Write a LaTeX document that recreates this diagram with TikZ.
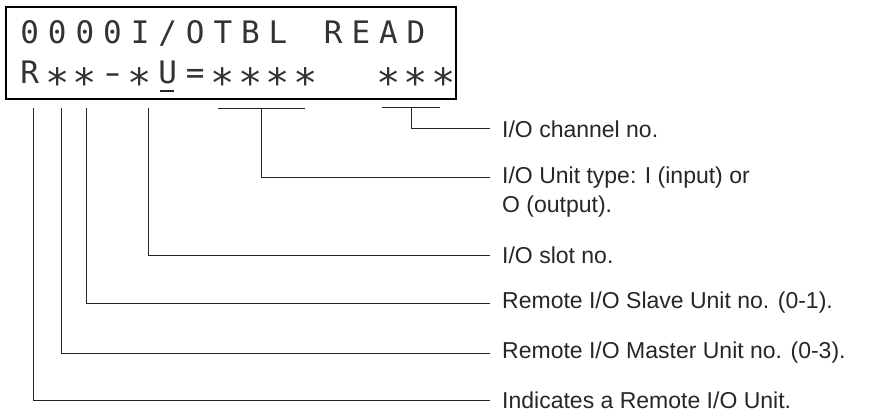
\documentclass[tikz,border=0pt]{standalone}
\usepackage{fontspec}
\usepackage{graphicx}
\setmainfont{Liberation Sans}
\newfontfamily\lcdfont{DejaVu Sans Mono}
\newcommand\lc[1]{\makebox[27.6pt]{#1}}
\newcommand\lst{\makebox[27.6pt]{\raisebox{-0.42em}{\scalebox{1.3}{*}}}}
\tikzset{
  lead/.style={line width=1pt, black!85},
  lbl/.style={anchor=west, inner xsep=12pt, inner ysep=0pt, font=\fontsize{23}{27}\selectfont, text=black!85},
  lcdline/.style={anchor=base west, inner sep=0pt, font=\lcdfont\fontsize{31}{31}\selectfont, text=black!80},
}
\begin{document}
\begin{tikzpicture}[x=1pt, y=-1pt]
\useasboundingbox (0,0) rectangle (875,414);
% LCD frame
\node[draw, line width=1.6pt, minimum width=450pt, minimum height=92pt, inner sep=0pt] (lcd) at (231,53) {};
\node[lcdline] (row1) at (15.7,44) {\lc{0}\lc{0}\lc{0}\lc{0}\lc{I}\lc{/}\lc{O}\lc{T}\lc{B}\lc{L}\lc{ }\lc{R}\lc{E}\lc{A}\lc{D}};
\node[lcdline] (row2) at (15.7,84) {\lc{R}\lst\lst\lc{\scalebox{1.5}[1]{-}}\lst\lc{U}\lc{=}\lst\lst\lst\lst\lc{ }\lc{ }\lst\lst\lst};
\coordinate (cura) at (160,91);
\coordinate (curb) at (174,91);
\draw[line width=2pt, black!85] (cura) -- (curb);
% labels
\node[lbl] (chan) at (490,129) {I/O channel no.};
\node[lbl] (unit) at (490,178) {I/O Unit type: I (input) or};
\node[lbl] (unit2) at (490,207) {O (output).};
\node[lbl] (slot) at (490,255) {I/O slot no.};
\node[lbl] (slave) at (490,303) {Remote I/O Slave Unit no. (0-1).};
\node[lbl] (master) at (490,353) {Remote I/O Master Unit no. (0-3).};
\node[lbl] (rem) at (490,400) {Indicates a Remote I/O Unit.};
% leader start points
\coordinate (pr) at (33,108);
\coordinate (pm) at (61,108);
\coordinate (ps) at (86,108);
\coordinate (pslot) at (148,108);
\coordinate (ua) at (218,109);
\coordinate (ub) at (305,109);
\coordinate (um) at (261,109);
\coordinate (ca) at (382,108);
\coordinate (cb) at (440,108);
\coordinate (cm) at (411,108);
% leaders
\draw[lead] (pr) |- (rem.west);
\draw[lead] (pm) |- (master.west);
\draw[lead] (ps) |- (slave.west);
\draw[lead] (pslot) |- (slot.west);
\draw[lead] (ua) -- (ub);
\draw[lead] (um) |- (unit.west);
\draw[lead] (ca) -- (cb);
\draw[lead] (cm) |- (chan.west);
\end{tikzpicture}
\end{document}
